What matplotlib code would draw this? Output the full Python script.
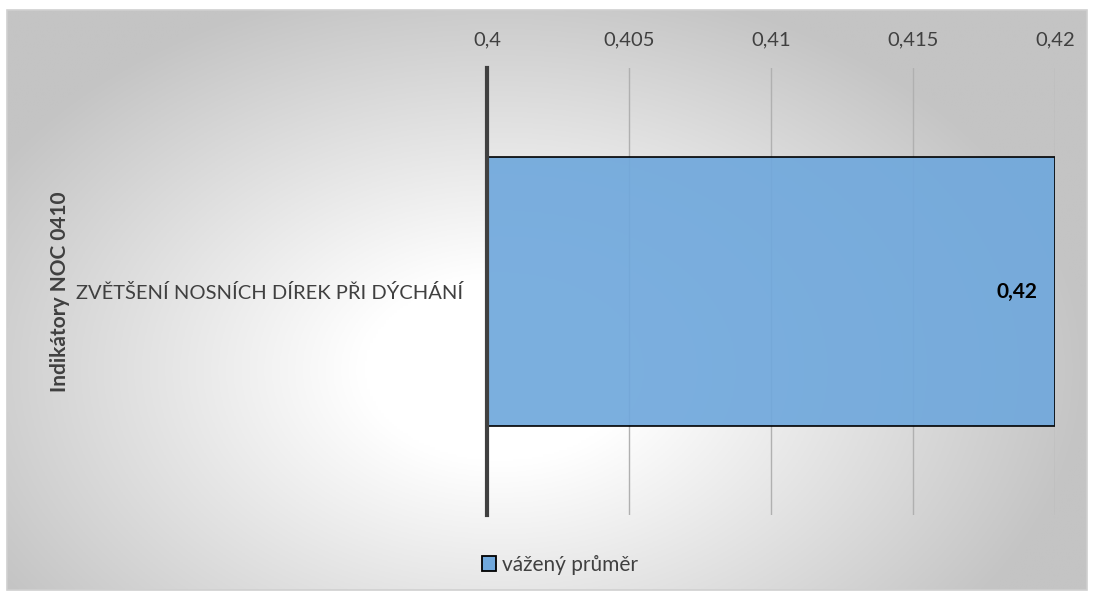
import numpy as np
from matplotlib import pyplot as plt
from matplotlib.patches import Rectangle

categories = ["ZVĚTŠENÍ NOSNÍCH DÍREK PŘI DÝCHÁNÍ"]
values = [0.42]
series_name = "vážený průměr"
y_title = "Indikátory NOC 0410"
x_ticks = [0.4, 0.405, 0.41, 0.415, 0.42]

plt.rcParams["font.family"] = ["Lato", "DejaVu Sans"]
text_color = "#404040"
bar_color = "#70a8dc"

fig = plt.figure(figsize=(10.94, 5.96), dpi=100)

# radial grey-to-white background of the chart area
W, H = 1094, 596
fx0, fy0, fx1, fy1 = 7, 10, 1087, 590
bg = fig.add_axes([fx0 / W, 1 - fy1 / H, (fx1 - fx0) / W, (fy1 - fy0) / H], zorder=-5)
xx, yy = np.meshgrid(np.linspace(fx0, fx1, 400), np.linspace(fy0, fy1, 250))
cx, cy = 500, 370
r = np.sqrt(((xx - cx) / 620) ** 2 + ((yy - cy) / 420) ** 2)
r = np.clip((r - 0.22) / (0.95 - 0.22), 0, 1)
shade = 1 - r * (1 - 196 / 255)
bg.imshow(np.dstack([shade, shade, shade]), extent=[0, 1, 0, 1], aspect="auto")
bg.set_axis_off()
fig.patches.append(Rectangle((fx0 / W, 1 - fy1 / H), (fx1 - fx0) / W, (fy1 - fy0) / H,
                             transform=fig.transFigure, fill=False,
                             edgecolor="#d0d0d0", linewidth=1.2))

ax = fig.add_axes([487 / W, 1 - 515 / H, (1055 - 487) / W, (515 - 68) / H])
ax.patch.set_alpha(0)

xmin, xmax = x_ticks[0], x_ticks[-1]
ypos = np.arange(len(categories))
ax.barh(ypos, [v - xmin for v in values], left=xmin, height=0.6,
        color=bar_color, edgecolor="black", linewidth=1.3, alpha=0.92, zorder=2)
ax.set_xlim(xmin, xmax)
ax.set_ylim(-0.5, 0.5)

for y, v in zip(ypos, values):
    ax.text(v - 0.0006, y, f"{v:g}".replace(".", ","), ha="right", va="center",
            fontsize=15, fontweight="bold", color="black", zorder=3)

ax.xaxis.tick_top()
ax.set_xticks(x_ticks)
ax.set_xticklabels([f"{t:g}".replace(".", ",") for t in x_ticks], fontsize=14.5, color=text_color)
ax.tick_params(axis="x", length=0, pad=14)
ax.set_yticks(ypos)
ax.set_yticklabels(categories, fontsize=14.5, color=text_color)
ax.tick_params(axis="y", length=0, pad=17)
ax.grid(axis="x", color="#b0b0b0", linewidth=1, zorder=1)
ax.set_axisbelow(True)

for side in ["top", "right", "bottom"]:
    ax.spines[side].set_visible(False)
ax.spines["left"].set_color("#404040")
ax.spines["left"].set_linewidth(3)
ax.spines["left"].set_zorder(4)

fig.text(60 / W, 1 - 292 / H, y_title, rotation=90, ha="center", va="center",
         fontsize=15, fontweight="bold", color=text_color)

handle = Rectangle((0, 0), 1, 1, facecolor=bar_color, edgecolor="black", linewidth=1.3)
fig.legend([handle], [series_name], loc="center", bbox_to_anchor=(560 / W, 1 - 565 / H),
           frameon=False, fontsize=15, handlelength=0.7, handleheight=0.7,
           handletextpad=0.3, labelcolor=text_color)

fig.savefig("out.png", dpi=100)
